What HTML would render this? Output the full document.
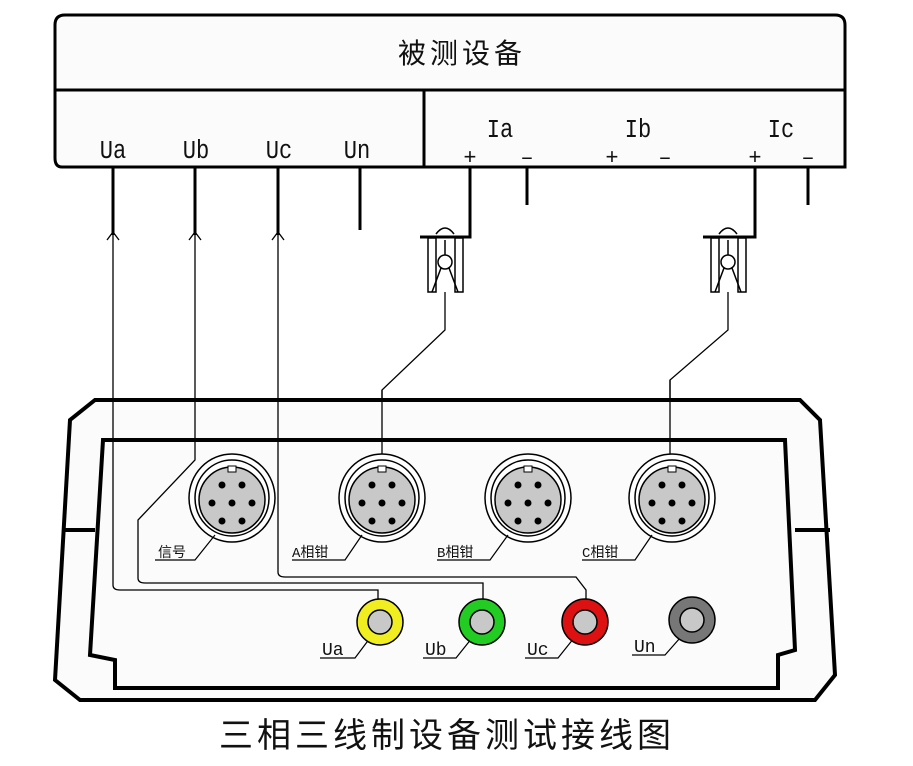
<!DOCTYPE html>
<html><head><meta charset="utf-8"><style>
body{margin:0;background:#fff}
svg text{font-family:"Liberation Mono","Noto Sans CJK SC",monospace;fill:#111}
</style></head><body>
<svg width="913" height="761" viewBox="0 0 913 761" xmlns="http://www.w3.org/2000/svg">
<rect width="913" height="761" fill="#fff"/>
<path d="M65 15 H835 Q845 15 845 25 V167 H62 Q55 167 55 158 V25 Q55 15 65 15Z" fill="#fbfbfb" stroke="#000" stroke-width="3"/>
<line x1="55" y1="90" x2="845" y2="90" stroke="#000" stroke-width="3"/>
<line x1="424" y1="90" x2="424" y2="167" stroke="#000" stroke-width="3"/>
<text x="462" y="63" font-size="28" letter-spacing="4" text-anchor="middle" font-family="Noto Serif CJK SC,serif">被测设备</text>
<g font-size="26" text-anchor="middle">
<text transform="translate(113 158) scale(0.85 1)">Ua</text><text transform="translate(196 158) scale(0.85 1)">Ub</text><text transform="translate(279 158) scale(0.85 1)">Uc</text><text transform="translate(357 158) scale(0.85 1)">Un</text>
<text transform="translate(500 137) scale(0.85 1)">Ia</text><text transform="translate(638 137) scale(0.85 1)">Ib</text><text transform="translate(781 137) scale(0.85 1)">Ic</text>
</g>
<g font-size="22" text-anchor="middle">
<text x="470" y="164">+</text><text x="527" y="164">–</text><text x="612" y="164">+</text><text x="665" y="164">–</text><text x="755" y="164">+</text><text x="808" y="164">–</text>
</g>
<g stroke="#000" stroke-width="3" fill="none">
<line x1="113" y1="167" x2="113" y2="235"/><line x1="195" y1="167" x2="195" y2="235"/><line x1="278" y1="167" x2="278" y2="235"/>
<line x1="360" y1="167" x2="360" y2="230"/>
<path d="M470 167 V237 H420"/><line x1="527" y1="167" x2="527" y2="205"/>
<path d="M755 167 V237 H703"/><line x1="808" y1="167" x2="808" y2="205"/>
</g>
<g stroke="#000" stroke-width="1.3" fill="none">
<path d="M107 240 L113 232 L119 240"/><path d="M189 240 L195 232 L201 240"/><path d="M272 240 L278 232 L284 240"/>
<path d="M113 235 V585 Q113 590 120 590 H378 V605"/>
<path d="M195 235 V460 L138 520 V578 Q138 583 145 583 H483 V603"/>
<path d="M278 235 V572 Q278 577 285 577 H576 L586 590 V603"/>
<path d="M445 292 V330 L382 390 V462"/>
<path d="M728 292 V330 L670 380 V462"/>
</g>
<g id="clip" stroke="#000" stroke-width="1.5" fill="#fff">
<path d="M436 234 Q445 222 454 234"/>
<rect x="428" y="238" width="8" height="54"/><rect x="455" y="238" width="8" height="54"/>
<circle cx="445" cy="262" r="7"/>
<path d="M441 268 L432 292 M449 268 L458 292 M445 240 V255" fill="none"/>
</g>
<use href="#clip" x="283" y="0"/>
<path d="M95 400 H800 L820 420 L835 675 L815 700 H80 L55 680 L70 420 Z" fill="#fbfbfb" stroke="#000" stroke-width="4"/>
<path d="M103 440 H785 L795 650 L778 655 V688 H115 V660 L90 655 L103 440Z" fill="#fbfbfb" stroke="#000" stroke-width="4"/>
<path d="M62 530 H95 M795 530 H830" stroke="#000" stroke-width="4"/>
<g stroke="#000" stroke-width="1.3" fill="none">
<path d="M113 400 V585 Q113 590 120 590 H378 V605"/>
<path d="M195 400 V460 L138 520 V578 Q138 583 145 583 H483 V603"/>
<path d="M278 400 V572 Q278 577 285 577 H576 L586 590 V603"/>
<path d="M382 390 V462"/><path d="M670 380 V462"/>
</g>
<g id="con">
<ellipse cx="232" cy="498" rx="43" ry="44" fill="#fff" stroke="#000" stroke-width="1.5"/>
<ellipse cx="232" cy="498" rx="37" ry="38" fill="#fff" stroke="#000" stroke-width="1.5"/>
<ellipse cx="232" cy="500" rx="33" ry="33" fill="#c8c8c8" stroke="#000" stroke-width="1.5"/>
<rect x="228" y="466" width="8" height="6" fill="#fff" stroke="#000"/>
<g fill="#000"><circle cx="222" cy="485" r="3.5"/><circle cx="242" cy="485" r="3.5"/><circle cx="212" cy="503" r="3.5"/><circle cx="232" cy="503" r="3.5"/><circle cx="252" cy="503" r="3.5"/><circle cx="222" cy="521" r="3.5"/><circle cx="242" cy="521" r="3.5"/></g>
</g>
<use href="#con" x="150"/><use href="#con" x="296"/><use href="#con" x="440"/>
<g stroke="#000" stroke-width="1.2" fill="none">
<path d="M155 560 H195 L215 535"/><path d="M292 560 H345 L362 535"/><path d="M437 560 H490 L508 535"/><path d="M582 560 H635 L652 535"/>
<path d="M320 658 H355 L370 638"/><path d="M423 658 H456 L472 638"/><path d="M525 658 H558 L574 638"/><path d="M632 655 H665 L680 638"/>
</g>
<g font-size="14">
<text x="158" y="557">信号</text><text x="292" y="557">A相钳</text><text x="437" y="557">B相钳</text><text x="582" y="557">C相钳</text>
</g>
<g font-size="18"><text x="322" y="655">Ua</text><text x="425" y="655">Ub</text><text x="527" y="655">Uc</text><text x="634" y="652">Un</text></g>
<g stroke="#000" stroke-width="1.5">
<ellipse cx="380" cy="622" rx="23" ry="23" fill="#f0ee20"/><ellipse cx="380" cy="622" rx="12" ry="12" fill="#c8c8c8"/>
<ellipse cx="482" cy="622" rx="23" ry="23" fill="#22cc22"/><ellipse cx="482" cy="622" rx="12" ry="12" fill="#c8c8c8"/>
<ellipse cx="585" cy="622" rx="23" ry="23" fill="#dd1111"/><ellipse cx="585" cy="622" rx="12" ry="12" fill="#c8c8c8"/>
<ellipse cx="692" cy="620" rx="23" ry="23" fill="#777"/><ellipse cx="692" cy="620" rx="12" ry="12" fill="#c8c8c8"/>
</g>
<text x="447" y="747" font-size="34" letter-spacing="4" text-anchor="middle" font-family="Noto Sans CJK SC,sans-serif">三相三线制设备测试接线图</text>
</svg>
</body></html>
